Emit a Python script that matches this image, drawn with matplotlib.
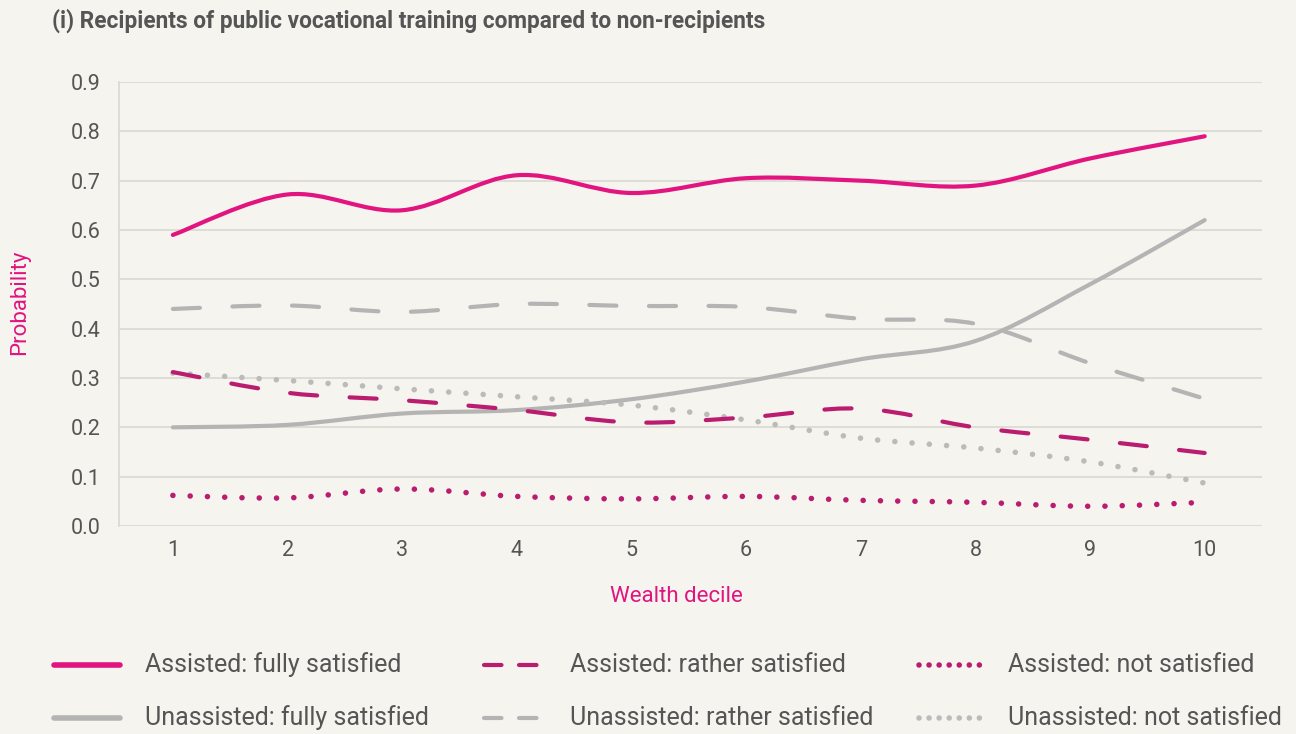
import numpy as np
import matplotlib
matplotlib.use('Agg')
import matplotlib.pyplot as plt
from matplotlib.path import Path
from matplotlib.patches import PathPatch
from matplotlib.lines import Line2D

deciles = [1, 2, 3, 4, 5, 6, 7, 8, 9, 10]
assistedFully = [0.59, 0.672, 0.64, 0.711, 0.675, 0.705, 0.70, 0.69, 0.745, 0.79]
assistedRather = [0.312, 0.27, 0.255, 0.235, 0.21, 0.22, 0.238, 0.20, 0.175, 0.148]
assistedNot = [0.062, 0.057, 0.075, 0.06, 0.055, 0.06, 0.052, 0.048, 0.04, 0.048]
unassistedFully = [0.20, 0.205, 0.228, 0.235, 0.257, 0.293, 0.338, 0.375, 0.49, 0.62]
unassistedRather = [0.44, 0.447, 0.434, 0.45, 0.446, 0.444, 0.42, 0.41, 0.33, 0.258]
unassistedNot = [0.31, 0.295, 0.278, 0.262, 0.245, 0.215, 0.178, 0.158, 0.13, 0.087]

seriesLabels = ["Assisted: fully satisfied", "Assisted: rather satisfied", "Assisted: not satisfied",
	"Unassisted: fully satisfied", "Unassisted: rather satisfied", "Unassisted: not satisfied"]
yTicks = [0.0, 0.1, 0.2, 0.3, 0.4, 0.5, 0.6, 0.7, 0.8, 0.9]

PINK = '#E2147F'
MAGENTA = '#BA1C6F'
GREY = '#B4B4B4'
GREYDOT = '#BBBBBB'
BG = '#F5F4EE'
TEXT = '#555555'

plt.rcParams['font.family'] = ['Roboto', 'DejaVu Sans']

#excel-like smoothed line as a bezier path
def smoothPath(x, y):
	verts = [(x[0], y[0])]
	codes = [Path.MOVETO]
	n = len(x)
	for i in range(n - 1):
		x0, y0 = (x[i-1], y[i-1]) if i > 0 else (x[i], y[i])
		x3, y3 = (x[i+2], y[i+2]) if i < n - 2 else (x[i+1], y[i+1])
		c1 = (x[i] + (x[i+1] - x0) / 6.0, y[i] + (y[i+1] - y0) / 6.0)
		c2 = (x[i+1] - (x3 - x[i]) / 6.0, y[i+1] - (y3 - y[i]) / 6.0)
		verts += [c1, c2, (x[i+1], y[i+1])]
		codes += [Path.CURVE4] * 3
	return Path(verts, codes)

# (color, width, chart linestyle, legend linestyle)
styles = [
	(PINK, 3.0, '-', '-'),
	(MAGENTA, 3.0, (0, (6.5, 7.8)), (0, (4.2, 4.2))),
	(MAGENTA, 4.0, (0, (0.01, 3.1)), (0, (0.01, 1.8))),
	(GREY, 3.0, '-', '-'),
	(GREY, 3.0, (0, (6.5, 7.8)), (0, (4.2, 4.2))),
	(GREYDOT, 4.0, (0, (0.01, 3.1)), (0, (0.01, 1.8))),
]
seriesValues = [assistedFully, assistedRather, assistedNot, unassistedFully, unassistedRather, unassistedNot]

fig = plt.figure(figsize=(12.96, 7.34), dpi=100, facecolor=BG)
ax = fig.add_axes([119/1296, 1 - 526/734, (1262 - 119)/1296, (526 - 82)/734])
ax.set_facecolor(BG)

# draw grey series first, pink ones on top
drawOrder = [3, 4, 5, 0, 1, 2]
for k in drawOrder:
	color, lw, ls, lls = styles[k]
	patch = PathPatch(smoothPath(deciles, seriesValues[k]), facecolor='none', edgecolor=color,
		linewidth=lw, linestyle=ls, capstyle='round', joinstyle='round', transform=ax.transData)
	ax.add_patch(patch)

ax.set_xlim(0.53, 10.5)
ax.set_ylim(0, 0.9)
ax.set_xticks(deciles)
ax.set_yticks(yTicks)
ax.set_yticklabels(["%.1f" % v for v in yTicks])
ax.grid(axis='y', color='#DCDAD5', linewidth=1.3)
ax.set_axisbelow(True)
for s in ['top', 'right', 'bottom']:
	ax.spines[s].set_visible(False)
ax.spines['left'].set_color('#DCDAD5')
ax.spines['left'].set_linewidth(1.3)
ax.tick_params(axis='both', length=0, labelsize=15.5, labelcolor=TEXT)
ax.tick_params(axis='y', pad=13)
ax.tick_params(axis='x', pad=10)

fig.text(52/1296, 1 - 21/734, "(i) Recipients of public vocational training compared to non-recipients",
	fontsize=16.3, fontweight='bold', color=TEXT, va='center', ha='left')
fig.text(20/1296, 1 - 302/734, "Probability", rotation=90, fontsize=16, color=PINK, va='center', ha='center')
fig.text(676/1296, 1 - 597/734, "Wealth decile", fontsize=16, color=PINK, va='center', ha='center')

# legend drawn by hand, 3 columns x 2 rows
handleX = [(54, 120), (484, 543), (919, 988)]
textX = [145, 570, 1008]
rowY = [665, 718]
for k in range(6):
	col = k % 3
	row = k // 3
	color, lw, ls, lls = styles[k]
	y = 1 - rowY[row]/734
	line = Line2D([handleX[col][0]/1296, handleX[col][1]/1296], [y, y], transform=fig.transFigure,
		color=color, linewidth=lw + 1.0 if lls == '-' else lw, linestyle=lls, solid_capstyle='round', dash_capstyle='round')
	fig.add_artist(line)
	fig.text(textX[col]/1296, y, seriesLabels[k], fontsize=18, color=TEXT, va='center', ha='left')

fig.savefig('out.png', dpi=100, facecolor=BG)
